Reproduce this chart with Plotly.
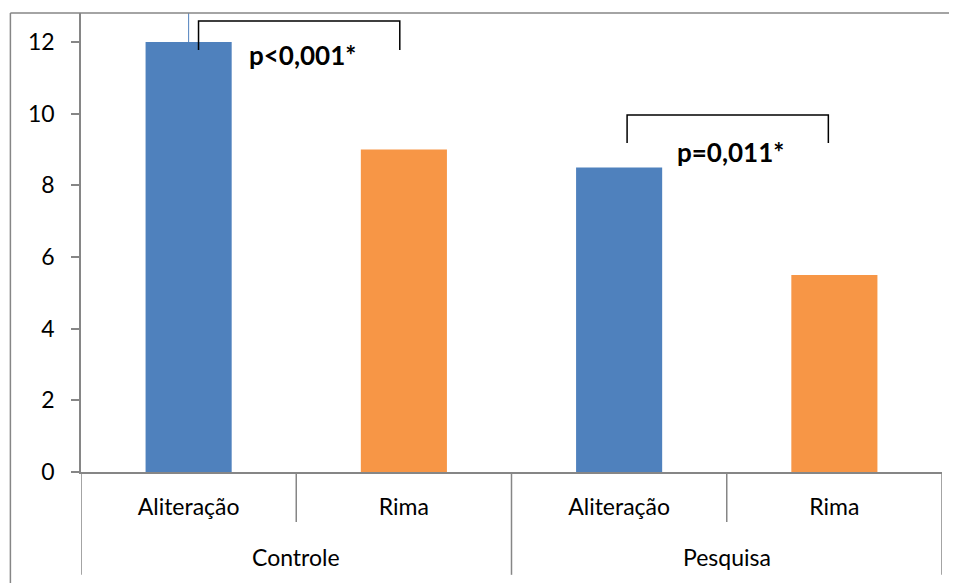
import plotly.graph_objects as go

groups = ["Controle", "Pesquisa"]
subcats = ["Aliteração", "Rima", "Aliteração", "Rima"]
values = [12, 9, 8.5, 5.5]
bar_colors = ["#4F81BD", "#F79646", "#4F81BD", "#F79646"]
error_up = [1.5, 0, 0, 0]
y_ticks = [0, 2, 4, 6, 8, 10, 12]
p_labels = ["p<0,001*", "p=0,011*"]

FONT = "Lato"
GRAY = "#868686"

xpos = list(range(len(values)))

fig = go.Figure()
fig.add_trace(go.Bar(
    x=xpos, y=values, width=0.4,
    marker=dict(color=bar_colors, line=dict(width=0)),
    error_y=dict(type="data", symmetric=False, array=error_up,
                 arrayminus=[0, 0, 0, 0], width=0, thickness=1,
                 color="#4F81BD"),
    showlegend=False,
))

shapes = []
# category dividers below axis
for b in [-0.5, 1.5, 3.5]:
    shapes.append(dict(type="line", xref="x", yref="paper", x0=b, x1=b,
                       y0=0, y1=-0.224, line=dict(color=GRAY, width=1.5)))
for b in [0.5, 2.5]:
    shapes.append(dict(type="line", xref="x", yref="paper", x0=b, x1=b,
                       y0=0, y1=-0.109, line=dict(color=GRAY, width=1.5)))
# outer chart border (top + left)
shapes.append(dict(type="line", xref="paper", yref="paper", x0=-0.082, x1=1.2,
                   y0=1, y1=1, line=dict(color=GRAY, width=1.5)))
shapes.append(dict(type="line", xref="paper", yref="paper", x0=-0.082, x1=-0.082,
                   y0=1, y1=-0.3, line=dict(color=GRAY, width=1.5)))
# significance brackets
brackets = [(0.046, 0.981, 11.78, 12.59), (2.037, 2.972, 9.18, 9.96)]
for x0, x1, ylo, yhi in brackets:
    shapes.append(dict(type="path", xref="x", yref="y",
                       path=f"M {x0},{ylo} L {x0},{yhi} L {x1},{yhi} L {x1},{ylo}",
                       line=dict(color="#000000", width=1.5)))

annotations = []
for gi, g in enumerate(groups):
    annotations.append(dict(x=0.5 + 2 * gi, y=-0.185, xref="x", yref="paper",
                            yanchor="middle", text=g, showarrow=False,
                            font=dict(family=FONT, size=23, color="#000000")))
p_pos = [(0.528, 11.64), (2.518, 8.93)]
for (px, py), t in zip(p_pos, p_labels):
    annotations.append(dict(x=px, y=py, xref="x", yref="y", text=f"<b>{t}</b>",
                            yanchor="middle", showarrow=False,
                            font=dict(family=FONT, size=26, color="#000000")))

fig.update_layout(
    width=949, height=575,
    margin=dict(l=73, r=15, t=5, b=111),
    paper_bgcolor="white", plot_bgcolor="white",
    font=dict(family=FONT, size=23, color="#000000"),
    xaxis=dict(range=[-0.5, 3.5], tickvals=xpos, ticktext=subcats,
               showline=True, linecolor=GRAY, linewidth=1.5,
               ticks="", showgrid=False, zeroline=False,
               ticklabelstandoff=14,
               tickfont=dict(family=FONT, size=23, color="#000000")),
    yaxis=dict(range=[0, 12.81], tickvals=y_ticks, showline=True,
               linecolor=GRAY, linewidth=1.5, ticks="outside", ticklen=8,
               tickcolor=GRAY, tickwidth=1.5, showgrid=False, zeroline=False,
               ticklabelstandoff=12,
               tickfont=dict(family=FONT, size=23, color="#000000")),
    shapes=shapes, annotations=annotations, bargap=0.6,
)

fig.write_html("out.html")
